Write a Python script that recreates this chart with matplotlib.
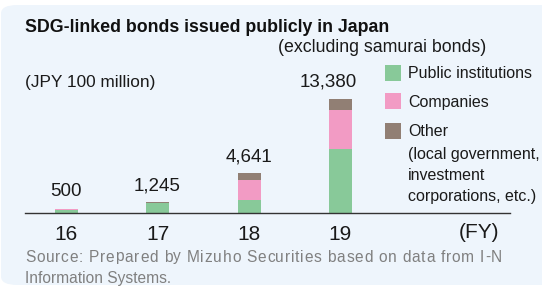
import matplotlib
matplotlib.use("Agg")
import matplotlib.pyplot as plt
from matplotlib.patches import FancyBboxPatch, Rectangle
import numpy as np

plt.rcParams['font.family'] = ['Liberation Sans', 'DejaVu Sans']

years = ["16", "17", "18", "19"]
public = [300, 1145, 1470, 7510]
companies = [200, 0, 2350, 4580]
other = [0, 100, 821, 1290]
totals = ["500", "1,245", "4,641", "13,380"]
series_names = ["Public institutions", "Companies", "Other"]
colors = ["#88C999", "#F29BC4", "#917F74"]

W, H = 542, 286
fig = plt.figure(figsize=(W / 100, H / 100), dpi=100)
fig.patch.set_facecolor("white")

def fx(px):
    return px / W

def fy(py):
    return 1 - py / H

bg = FancyBboxPatch((fx(1), fy(285)), fx(560), (285 - 5) / H,
                    boxstyle="round,pad=0,rounding_size=0.03",
                    transform=fig.transFigure, facecolor="#EEF5FC",
                    edgecolor="none", zorder=-5)
fig.patches.append(bg)

ymax = 18000
ax_h = ymax * 114 / 13380
ax = fig.add_axes([fx(25), fy(213), fx(510) - fx(25), ax_h / H])
ax.set_zorder(2)
ax.set_facecolor("none")
x = np.arange(len(years))
spacing = 91.5
ax.set_xlim((25 - 66) / spacing, (510 - 66) / spacing)
ax.set_ylim(0, ymax)

width = 23 / spacing
bottom = np.zeros(len(years))
for vals, c in zip([public, companies, other], colors):
    ax.bar(x, vals, width, bottom=bottom, color=c, edgecolor="none", zorder=2)
    bottom += np.array(vals)

label_dx = [0, 0, 0, -9]
for xi, tot, lab, dx in zip(x, bottom, totals, label_dx):
    ax.annotate(lab, (xi, tot), xytext=(dx, 6), textcoords="offset points",
                ha="center", va="bottom", fontsize=13.5, color="#1a1a1a")

for s in ["top", "right", "left"]:
    ax.spines[s].set_visible(False)
ax.spines["bottom"].set_color("#333333")
ax.spines["bottom"].set_linewidth(1.0)
ax.set_yticks([])
ax.set_xticks(x)
ax.set_xticklabels(years, fontsize=15, color="#1a1a1a")
ax.tick_params(axis="x", length=0, pad=8.5)

fig.text(fx(499), fy(233), "(FY)", ha="right", va="center", fontsize=15, color="#1a1a1a")

fig.text(fx(25), fy(27), "SDG-linked bonds issued publicly in Japan",
         fontsize=12.8, fontweight="bold", ha="left", va="center", color="#111111")
fig.text(fx(486), fy(47), "(excluding samurai bonds)", fontsize=12.8,
         ha="right", va="center", color="#1a1a1a")
fig.text(fx(25), fy(83), "(JPY 100 million)", fontsize=12.4,
         ha="left", va="center", color="#1a1a1a")

# legend
leg_y = [65, 93, 123]
for ly, c in zip(leg_y, colors):
    fig.patches.append(Rectangle((fx(385), fy(ly + 16)), fx(16), 16 / H,
                                 transform=fig.transFigure, facecolor=c,
                                 edgecolor="none", zorder=3))
for ty, t in zip([73, 102, 131], series_names):
    fig.text(fx(408), fy(ty), t, fontsize=11.5, ha="left", va="center", color="#1a1a1a")
for ty, t in zip([155, 175.5, 196], ["(local government,", "investment", "corporations, etc.)"]):
    fig.text(fx(408), fy(ty), t, fontsize=11.5, ha="left", va="center", color="#1a1a1a")

# source note (justified first line, letter-spaced)
src1 = "Source: Prepared by Mizuho Securities based on data from I-N"
src_color = "#808080"
src_fs = 11.2
renderer = fig.canvas.get_renderer()
chars = list(src1)
tmp = [fig.text(0, 0, ch if ch != " " else "a", fontsize=src_fs) for ch in chars]
widths = []
for ch, t in zip(chars, tmp):
    w = t.get_window_extent(renderer).width
    if ch == " ":
        sp = fig.text(0, 0, "a a", fontsize=src_fs)
        aa = fig.text(0, 0, "aa", fontsize=src_fs)
        w = sp.get_window_extent(renderer).width - aa.get_window_extent(renderer).width
        sp.remove(); aa.remove()
    widths.append(w)
for t in tmp:
    t.remove()
x0, x1 = 25, 502
gap = (x1 - x0 - sum(widths)) / (len(chars) - 1)
cx = x0
for ch, wd in zip(chars, widths):
    if ch != " ":
        fig.text(fx(cx), fy(257), ch, fontsize=src_fs, ha="left", va="center", color=src_color)
    cx += wd + gap
fig.text(fx(25), fy(279), "Information Systems.",
         fontsize=src_fs, ha="left", va="center", color=src_color)

fig.savefig("out.png", dpi=100, facecolor=fig.get_facecolor())
